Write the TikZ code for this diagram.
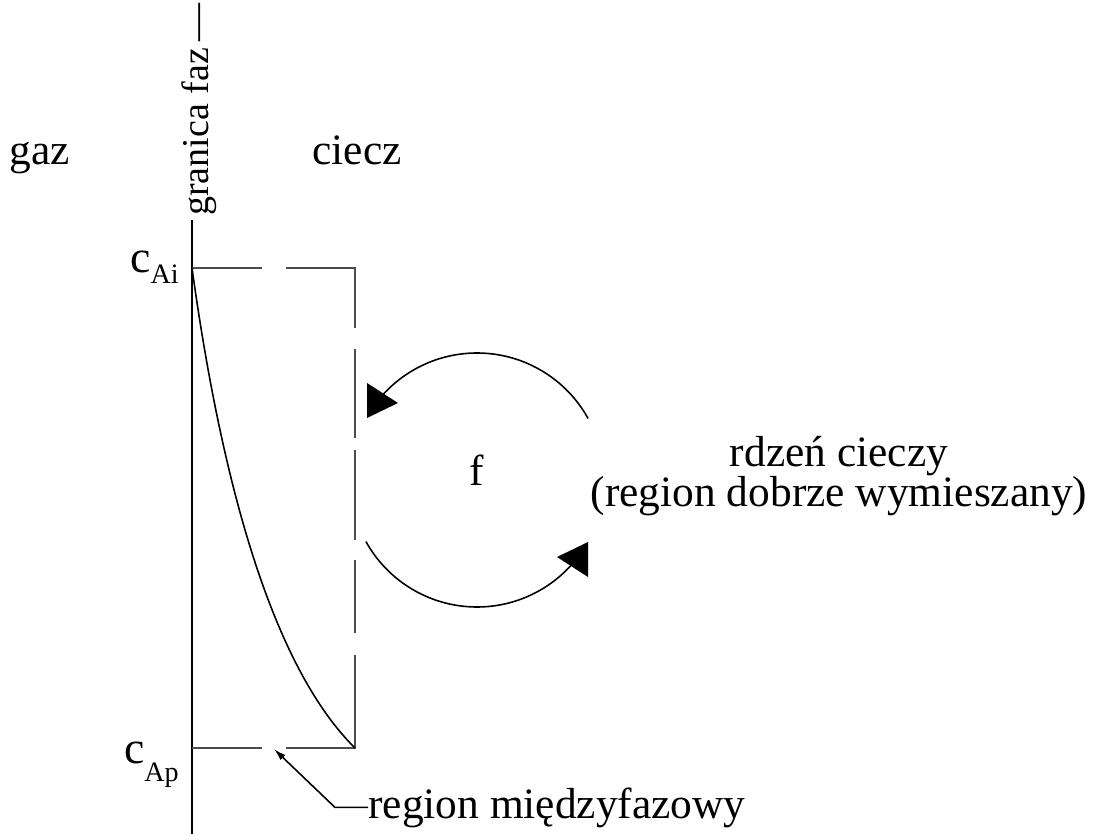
\documentclass[tikz,border=0pt]{standalone}
\usepackage{fontspec}
\setmainfont{Liberation Serif}
\usetikzlibrary{arrows.meta}

\tikzset{
  lbl/.style={inner sep=0pt, font=\fontsize{24.7}{23}\selectfont},
  box/.style={black!70, line width=1pt},
}

\begin{document}
\begin{tikzpicture}
                        \useasboundingbox (0,0) rectangle (21.86,16.68);
                        % phase boundary
                        \draw [line width=1pt] (3.84,12.28) -- (3.84,0);
                        \node[lbl, rotate=90, anchor=base west, font=\fontsize{21.6}{22}\selectfont] (granica) at (4.16,12.36) {granica faz\,---};

                        \node[lbl, anchor=base] (gaz) at (0.8,13.38) {gaz};
                        \node[lbl, anchor=base] (ciecz) at (7.14,13.38) {ciecz};

                        % film region, dashed outline
                        \draw [box] (3.84,11.32) -- (5.24,11.32);
                        \draw [box] (5.72,11.32) -- (7.10,11.32) -- (7.10,10.12);
                        \draw [box] (7.10,9.70) -- (7.10,7.92);
                        \draw [box] (7.10,7.68) -- (7.10,5.88);
                        \draw [box] (7.10,5.48) -- (7.10,4.02);
                        \draw [box] (7.10,3.58) -- (7.10,1.72) -- (5.72,1.72);
                        \draw [box] (5.24,1.72) -- (3.84,1.72);

                        % concentration profile
                        \draw [line width=0.9pt] (3.84,11.32) .. controls (4.3,8.0) and (5.2,3.6) .. (7.10,1.72);

                        \node[lbl, anchor=base east] (cAi) at (3.58,11.22) {\fontsize{26}{26}\selectfont c\raisebox{-6pt}{\fontsize{16}{16}\selectfont Ai}};
                        \node[lbl, anchor=base east] (cAp) at (3.58,1.42) {\fontsize{26}{26}\selectfont c\raisebox{-10.5pt}{\fontsize{16}{16}\selectfont Ap}};

                        % circulation
                        \draw [line width=0.9pt] (9.54,7.08) ++(29:2.54) arc (29:138:2.54);
                        \draw [line width=0.9pt] (9.54,7.08) ++(209:2.54) arc (209:318:2.54);
                        \fill (7.34,9.02) -- (7.34,8.32) -- (7.96,8.62) -- cycle;
                        \fill (11.76,5.84) -- (11.76,5.14) -- (11.14,5.54) -- cycle;

                        \node[lbl] (f) at (9.54,7.28) {f};
                        \node[lbl, align=center] (rdzen) at (16.78,7.16) {rdzeń cieczy\\(region dobrze wymieszany)};

                        % interfacial region label
                        \node[lbl, anchor=base west] (region) at (7.36,0.32) {region międzyfazowy};
                        \coordinate (tip) at (5.48,1.70);
                        \draw [line width=0.9pt, -{Latex[length=7pt,width=4pt]}] (region.west) -- ++(-0.66,0) -- (tip);
\end{tikzpicture}
\end{document}
